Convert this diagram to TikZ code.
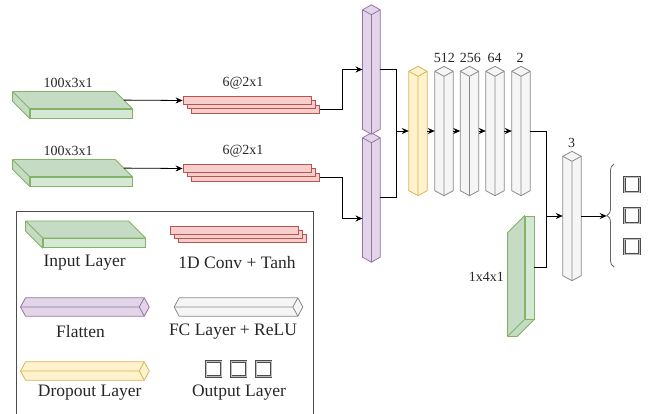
\documentclass[tikz,border=0pt]{standalone}
\usepackage{fontspec}
\setmainfont{Liberation Serif}
\usetikzlibrary{arrows.meta,calc,decorations.pathreplacing}

\definecolor{grnf}{HTML}{D5E8D4}
\definecolor{grns}{HTML}{C6DBC4}
\definecolor{grnd}{HTML}{82B366}
\definecolor{redf}{HTML}{F8CECC}
\definecolor{redd}{HTML}{B85450}
\definecolor{purf}{HTML}{E1D5E7}
\definecolor{purd}{HTML}{9673A6}
\definecolor{yelf}{HTML}{FFF2CC}
\definecolor{yeld}{HTML}{D6B656}
\definecolor{gryf}{HTML}{F5F5F5}
\definecolor{gryd}{HTML}{8A8A8A}

\tikzset{
    lay/.style={inner sep=0, minimum width=18, minimum height=129},
    slabfront/.style={draw=grnd, fill=grnf, inner sep=0, line width=0.8pt},
    slabside/.style={draw=grnd, fill=grns, line width=0.8pt, line join=round},
    convbox/.style={draw=redd, fill=redf, inner sep=0, minimum width=128, minimum height=8, line width=0.8pt},
    flatcol/.style={draw=purd, fill=purf, line width=0.8pt, line join=round},
    dropcol/.style={draw=yeld, fill=yelf, line width=0.8pt, line join=round},
    fccol/.style={draw=gryd, fill=gryf, line width=0.8pt, line join=round},
    outbox/.style={draw=black!70, double=black!25, double distance=0.7pt, line width=0.9pt, fill=white, inner sep=0, minimum size=15},
    lbl/.style={font=\fontsize{14}{16}\selectfont, text=black!85},
    leg/.style={font=\fontsize{17.5}{20}\selectfont, text=black!85},
    arr/.style={-{Stealth[length=7pt,width=6pt]}, line width=0.8pt},
    wire/.style={line width=0.8pt},
    brace/.style={draw=black!60, line width=0.8pt, decorate, decoration={brace, amplitude=7pt}},
}

% upright column, rhombus cap on top
\newcommand{\vcol}[2]{%
    \draw[#2] ([shift={(0,5)}]#1.north west) -- (#1.north) -- ([shift={(0,5)}]#1.north east)
        -- ([shift={(0,-5)}]#1.south east) -- (#1.south) -- ([shift={(0,-5)}]#1.south west) -- cycle;
    \draw[#2, fill=none] ([shift={(0,5)}]#1.north west) -- ([shift={(0,10)}]#1.north)
        -- ([shift={(0,5)}]#1.north east) ([shift={(0,10)}]#1.north) -- (#1.south);
}
% lying column, rhombus cap on the right
\newcommand{\hcol}[2]{%
    \draw[#2] ([shift={(5,0)}]#1.north west) -- ([shift={(-5,0)}]#1.north east) -- (#1.east)
        -- ([shift={(-5,0)}]#1.south east) -- ([shift={(5,0)}]#1.south west) -- (#1.west) -- cycle;
    \draw[#2, fill=none] ([shift={(-5,0)}]#1.north east) -- ([shift={(-10,0)}]#1.east)
        -- ([shift={(-5,0)}]#1.south east) ([shift={(-10,0)}]#1.east) -- (#1.west);
}
% flat input slab, top and left faces behind the front face
\newcommand{\slab}[1]{%
    \draw[slabside] (#1.south west) -- +(-17,-17) -- ([shift={(-17,-17)}]#1.north west)
        -- ([shift={(-17,-17)}]#1.north east) -- (#1.north east) -- (#1.north west) -- cycle;
    \draw[slabside, fill=none] (#1.north west) -- +(-17,-17);
}

\begin{document}
\begin{tikzpicture}[x=1pt, y=-1pt]
    \useasboundingbox (0,0) rectangle (650,414);

    % inputs
    \node[slabfront, minimum width=102, minimum height=9] (in1) at (81,113.5) {} ;
    \node[slabfront, minimum width=102, minimum height=9] (in2) at (81,181.5) {} ;
    \slab{in1}
    \slab{in2}
    \node[lbl] (in1_lbl) at (68,83) {100x3x1} ;
    \node[lbl] (in2_lbl) at (68,151) {100x3x1} ;

    % conv stacks
    \node[convbox] (conv1c) at (255.6,109.1) {} ;
    \node[convbox] (conv1b) at (251.3,104.8) {} ;
    \node[convbox] (conv1a) at (247,100.5) {} ;
    \node[convbox] (conv2c) at (255.6,177.1) {} ;
    \node[convbox] (conv2b) at (251.3,172.8) {} ;
    \node[convbox] (conv2a) at (247,168.5) {} ;
    \node[lbl] (conv1_lbl) at (243,83) {6@2x1} ;
    \node[lbl] (conv2_lbl) at (243,151) {6@2x1} ;

    % flatten
    \node[lay, minimum width=17.3] (flat1) at (371.4,69.5) {} ;
    \node[lay, minimum width=17.3] (flat2) at (371.4,197.5) {} ;
    \vcol{flat2}{flatcol}
    \vcol{flat1}{flatcol}

    % dropout + dense
    \node[lay] (drop) at (418,131) {} ;
    \node[lay] (fc1) at (444,131) {} ;
    \node[lay] (fc2) at (469.5,131) {} ;
    \node[lay] (fc3) at (495,131) {} ;
    \node[lay] (fc4) at (521,131) {} ;
    \node[lay] (fc5) at (572,216) {} ;
    \vcol{drop}{dropcol}
    \vcol{fc1}{fccol}
    \vcol{fc2}{fccol}
    \vcol{fc3}{fccol}
    \vcol{fc4}{fccol}
    \vcol{fc5}{fccol}
    \node[lbl] (fc1_lbl) at (444.3,57.5) {512} ;
    \node[lbl] (fc2_lbl) at (470.3,57.5) {256} ;
    \node[lbl] (fc3_lbl) at (494.7,57.5) {64} ;
    \node[lbl] (fc4_lbl) at (520,57.5) {2} ;
    \node[lbl] (fc5_lbl) at (571.7,143) {3} ;

    % second input
    \node[slabfront, minimum width=9, minimum height=103] (aux) at (529.5,267.5) {} ;
    \draw[slabside] (aux.north west) -- +(-17,17) -- ([shift={(-17,17)}]aux.south west)
        -- ([shift={(-17,17)}]aux.south east) -- (aux.south east) -- (aux.south west) -- cycle;
    \draw[slabside, fill=none] (aux.south west) -- +(-17,17);
    \node[lbl] (aux_lbl) at (486.3,276.7) {1x4x1} ;

    % outputs
    \node[outbox] (out1) at (632,184.5) {} ;
    \node[outbox] (out2) at (632,215.5) {} ;
    \node[outbox] (out3) at (632,246.5) {} ;
    \draw[brace] (614,267) -- (614,164) ;
    \coordinate (brc) at (606.7,216) ;

    % wiring
    \coordinate (mrg1) at (396.7,131) ;
    \coordinate (mrg2) at (546.7,216) ;
    \draw[arr] ([shift={(-8.5,-8.5)}]in1.north east) -- (conv1a.west) ;
    \draw[arr] ([shift={(-8.5,-8.5)}]in2.north east) -- (conv2a.west) ;
    \draw[arr] (conv1c.east) -- ++(22,0) |- (flat1.west) ;
    \draw[arr] (conv2c.east) -- ++(22,0) |- ($(flat2.west)+(0,21)$) ;
    \draw[wire] (flat1.east) -| (mrg1) ;
    \draw[wire] (flat2.east) -| (mrg1) ;
    \draw[arr] (mrg1) -- (drop.west) ;
    \draw[arr] (drop.east) -- (fc1.west) ;
    \draw[arr] (fc1.east) -- (fc2.west) ;
    \draw[arr] (fc2.east) -- (fc3.west) ;
    \draw[arr] (fc3.east) -- (fc4.west) ;
    \draw[wire] (fc4.east) -| (mrg2) ;
    \draw[wire] (aux.east) -| (mrg2) ;
    \draw[arr] (mrg2) -- (fc5.west) ;
    \draw[arr] (fc5.east) -- (brc) ;

    % legend
    \draw[line width=0.8pt, draw=black!70] (16,211) rectangle (313,420) ;
    \node[slabfront, minimum width=102, minimum height=9.4] (leg_in) at (94,243) {} ;
    \slab{leg_in}
    \node[convbox] (leg_convc) at (242.6,238.6) {} ;
    \node[convbox] (leg_convb) at (238.3,234.3) {} ;
    \node[convbox] (leg_conva) at (234,230) {} ;
    \node[lay, minimum width=128.3, minimum height=18] (leg_flat) at (84.9,307) {} ;
    \node[lay, minimum width=128.3, minimum height=18] (leg_fc) at (238.5,307) {} ;
    \node[lay, minimum width=128.3, minimum height=18] (leg_drop) at (84.9,371) {} ;
    \hcol{leg_flat}{flatcol}
    \hcol{leg_fc}{fccol}
    \hcol{leg_drop}{dropcol}
    \node[outbox] (leg_out1) at (213.5,369) {} ;
    \node[outbox] (leg_out2) at (238.5,369) {} ;
    \node[outbox] (leg_out3) at (263.5,369) {} ;
    \node[leg] (leg_in_lbl) at (84.7,263) {Input Layer} ;
    \node[leg] (leg_conv_lbl) at (237,263) {1D Conv + Tanh} ;
    \node[leg] (leg_flat_lbl) at (80.5,332) {Flatten} ;
    \node[leg] (leg_fc_lbl) at (233,332) {FC Layer + ReLU} ;
    \node[leg] (leg_drop_lbl) at (89.7,393) {Dropout Layer} ;
    \node[leg] (leg_out_lbl) at (239,393) {Output Layer} ;
\end{tikzpicture}
\end{document}
